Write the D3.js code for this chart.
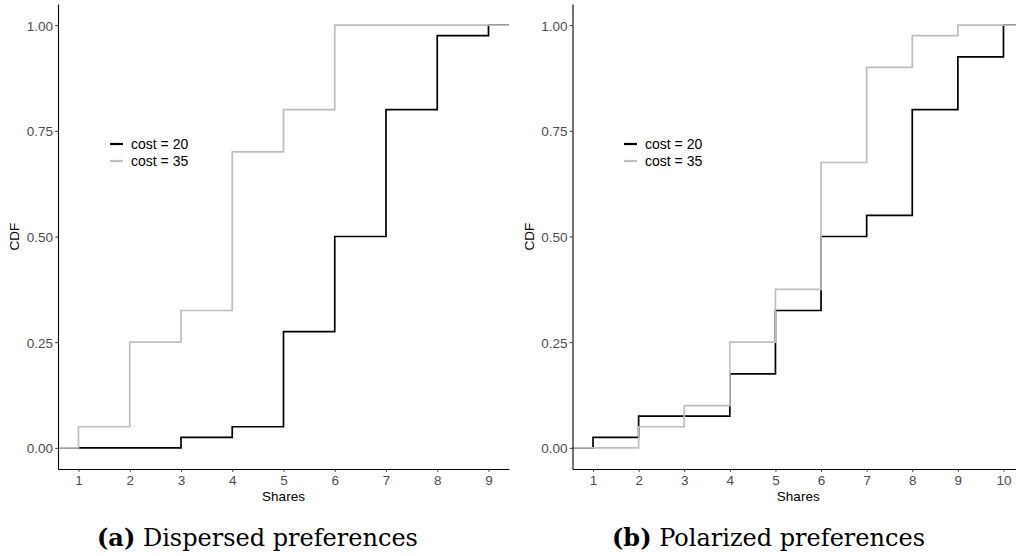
<!DOCTYPE html>
<html>
<head>
<meta charset="utf-8">
<script src="https://cdn.jsdelivr.net/npm/d3@7"></script>
<style>
  body { margin: 0; background: #fff; }
  svg { display: block; }
</style>
</head>
<body>
<script>
// ecdf knots (shares) and cumulative share at each knot
const leftShares = [1, 2, 3, 4, 5, 6, 7, 8, 9];
const leftCost20 = [0, 0, 0.025, 0.05, 0.275, 0.5, 0.8, 0.975, 1];
const leftCost35 = [0.05, 0.25, 0.325, 0.7, 0.8, 1, 1, 1, 1];

const rightShares = [1, 2, 3, 4, 5, 6, 7, 8, 9, 10];
const rightCost20 = [0.025, 0.075, 0.075, 0.175, 0.325, 0.5, 0.55, 0.8, 0.925, 1];
const rightCost35 = [0, 0.05, 0.1, 0.25, 0.375, 0.675, 0.9, 0.975, 1, 1];

const yTicks = [0, 0.25, 0.5, 0.75, 1];
const seriesNames = ["cost = 20", "cost = 35"];
const seriesColors = ["#000000", "#bebebe"];
const captions = [["(a)", " Dispersed preferences"], ["(b)", " Polarized preferences"]];

const width = 1016, height = 556;

const svg = d3.select("body").append("svg")
    .attr("width", width)
    .attr("height", height)
    .attr("font-family", "Liberation Sans, Arial, sans-serif");

const y = d3.scaleLinear().domain([-0.05, 1.05]).range([469, 4]);

const panels = [
  { shares: leftShares, series: [leftCost20, leftCost35], x0: 58, x1: 509, legendX: 110, capX: 97, ylabX: 14.5 },
  { shares: rightShares, series: [rightCost20, rightCost35], x0: 572.5, x1: 1024, legendX: 624, capX: 612, ylabX: 529 }
];

panels.forEach((p, pi) => {
  const lo = d3.min(p.shares), hi = d3.max(p.shares);
  const pad = (hi - lo) * 0.05;
  const x = d3.scaleLinear().domain([lo - pad, hi + pad]).range([p.x0, p.x1]);

  const g = svg.append("g");
  const clipId = "clip" + pi;
  g.append("clipPath").attr("id", clipId)
    .append("rect").attr("x", p.x0).attr("y", 0).attr("width", p.x1 - p.x0).attr("height", 470);

  const line = d3.line()
      .x(d => x(d[0]))
      .y(d => y(d[1]))
      .curve(d3.curveStepAfter);

  p.series.forEach((vals, si) => {
    const pts = [[lo - pad, 0]].concat(p.shares.map((s, i) => [s, vals[i]]), [[hi + pad, 1]]);
    g.append("path")
        .datum(pts)
        .attr("clip-path", `url(#${clipId})`)
        .attr("fill", "none")
        .attr("stroke", seriesColors[si])
        .attr("stroke-width", 1.7)
        .attr("d", line);
  });

  // axes
  const xAxis = g.append("g")
      .attr("transform", "translate(0,469)")
      .call(d3.axisBottom(x).tickValues(p.shares).tickFormat(d3.format("d")).tickSize(2.75).tickSizeOuter(0));
  const yAxis = g.append("g")
      .attr("transform", `translate(${p.x0},0)`)
      .call(d3.axisLeft(y).tickValues(yTicks).tickFormat(d3.format(".2f")).tickSize(2.75).tickSizeOuter(0));

  [xAxis, yAxis].forEach(a => {
    a.select(".domain").attr("stroke", "#000").attr("stroke-width", 1.1);
    a.selectAll(".tick line").attr("stroke", "#333").attr("stroke-width", 1);
    a.selectAll(".tick text")
        .attr("fill", "#4d4d4d")
        .attr("font-size", 13.5)
        .attr("font-family", "Liberation Sans, Arial, sans-serif");
  });
  xAxis.selectAll(".tick text").attr("dy", null).attr("y", 16);
  yAxis.selectAll(".tick text").attr("x", -5).attr("dy", "0.36em");

  g.append("text")
      .attr("x", (p.x0 + p.x1) / 2)
      .attr("y", 501)
      .attr("text-anchor", "middle")
      .attr("font-size", 13.5)
      .text("Shares");

  g.append("text")
      .attr("transform", `translate(${p.ylabX},236.5) rotate(-90)`)
      .attr("text-anchor", "middle")
      .attr("dy", "0.36em")
      .attr("font-size", 13.5)
      .text("CDF");

  // legend
  const lg = g.append("g").attr("transform", `translate(${p.legendX},144)`);
  seriesNames.forEach((name, si) => {
    lg.append("line")
        .attr("x1", 0).attr("x2", 13)
        .attr("y1", si * 17).attr("y2", si * 17)
        .attr("stroke", seriesColors[si])
        .attr("stroke-width", 2.2);
    lg.append("text")
        .attr("x", 21)
        .attr("y", si * 17)
        .attr("dy", "0.36em")
        .attr("font-size", 14)
        .text(name);
  });

  // caption
  const cap = svg.append("text")
      .attr("x", p.capX)
      .attr("y", 546)
      .attr("font-family", "DejaVu Serif, serif")
      .attr("font-size", 24)
      .attr("fill", "#000");
  cap.append("tspan").attr("font-weight", "bold").text(captions[pi][0]);
  cap.append("tspan").text(captions[pi][1]);
});
</script>
</body>
</html>
